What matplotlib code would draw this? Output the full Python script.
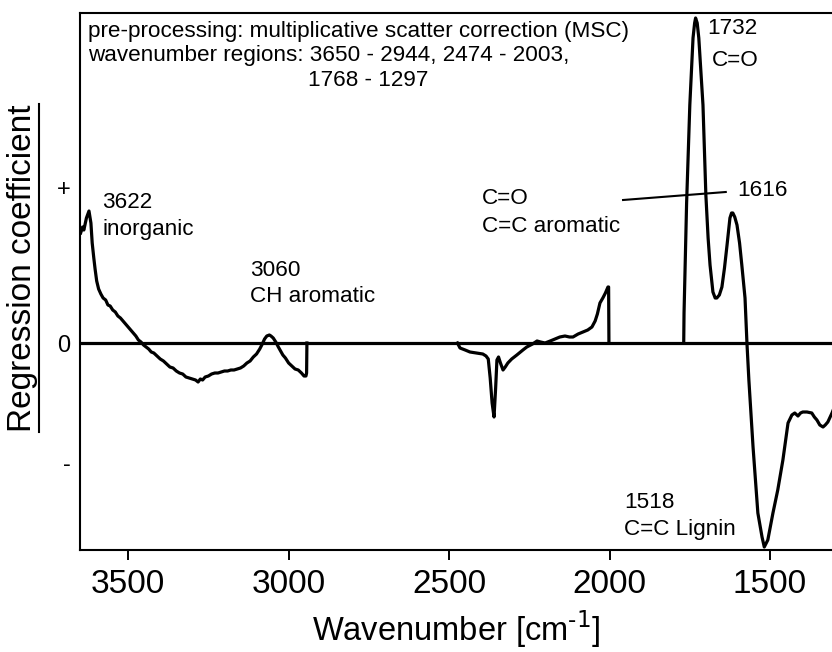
import matplotlib
matplotlib.use("Agg")
import matplotlib.pyplot as plt
from matplotlib.lines import Line2D

plt.rcParams['font.family'] = ['Liberation Sans', 'DejaVu Sans']
plt.rcParams['mathtext.default'] = 'regular'

# PLS regression coefficients over the selected wavenumber regions
# (coefficients are zero outside the regions)
wn_oh = [3648, 3642, 3638, 3630, 3622, 3616, 3612, 3607, 3603, 3598, 3592, 3585,
         3578, 3570, 3563, 3556, 3548, 3540, 3532, 3524, 3516, 3508, 3500, 3492,
         3484, 3476, 3468, 3460, 3452, 3444, 3436, 3428, 3420, 3410, 3400, 3390,
         3380, 3370, 3360, 3350, 3340, 3330, 3320, 3310, 3300, 3290, 3282, 3275,
         3268, 3260, 3250, 3240, 3230, 3220, 3210, 3200, 3190, 3180, 3170, 3160,
         3150, 3140, 3130, 3120, 3110, 3100, 3090, 3082, 3075, 3068, 3060, 3055,
         3048, 3040, 3032, 3025, 3018, 3010, 3000, 2990, 2980, 2970, 2960, 2952,
         2946, 2944, 2943]
coef_oh = [1.10, 1.16, 1.13, 1.25, 1.32, 1.20, 1.00, 0.85, 0.74, 0.62, 0.54, 0.49,
           0.45, 0.43, 0.38, 0.37, 0.33, 0.31, 0.27, 0.25, 0.22, 0.19, 0.16, 0.13,
           0.10, 0.07, 0.03, 0.01, -0.02, -0.04, -0.06, -0.09, -0.10, -0.13, -0.16, -0.18,
           -0.21, -0.24, -0.25, -0.28, -0.30, -0.31, -0.34, -0.35, -0.36, -0.37, -0.39, -0.36,
           -0.37, -0.34, -0.33, -0.31, -0.30, -0.30, -0.29, -0.28, -0.28, -0.27, -0.27, -0.26,
           -0.25, -0.23, -0.20, -0.18, -0.14, -0.11, -0.06, -0.01, 0.04, 0.07, 0.08, 0.07,
           0.05, 0.01, -0.04, -0.08, -0.12, -0.15, -0.20, -0.23, -0.26, -0.27, -0.30, -0.33,
           -0.33, -0.30, 0.0]

wn_mid = [2474, 2466, 2450, 2435, 2415, 2395, 2385, 2378, 2372, 2366, 2360, 2355,
          2351, 2346, 2340, 2332, 2325, 2317, 2305, 2289, 2270, 2258, 2240, 2226,
          2215, 2201, 2185, 2170, 2155, 2139, 2125, 2114, 2098, 2083, 2068, 2055,
          2045, 2038, 2030, 2021, 2013, 2005, 2003, 2002]
coef_mid = [0.0, -0.05, -0.07, -0.09, -0.10, -0.11, -0.13, -0.16, -0.35, -0.60, -0.74, -0.45,
            -0.17, -0.14, -0.20, -0.27, -0.24, -0.20, -0.16, -0.12, -0.07, -0.04, -0.01, 0.02,
            0.01, 0.00, 0.02, 0.04, 0.06, 0.07, 0.06, 0.06, 0.09, 0.11, 0.13, 0.16,
            0.22, 0.29, 0.40, 0.45, 0.50, 0.56, 0.56, 0.0]

wn_fp = [1769, 1768, 1760, 1750, 1740, 1735, 1732, 1727, 1722, 1709, 1700, 1693,
         1687, 1678, 1671, 1666, 1658, 1650, 1642, 1634, 1625, 1620, 1616, 1610,
         1603, 1595, 1588, 1578, 1572, 1566, 1553, 1538, 1525, 1518, 1507, 1491,
         1476, 1460, 1444, 1432, 1423, 1413, 1405, 1398, 1385, 1370, 1362, 1354,
         1345, 1335, 1328, 1320, 1307, 1297]
coef_fp = [0.0, 0.30, 1.40, 2.38, 3.05, 3.20, 3.25, 3.20, 3.05, 2.38, 1.48, 1.05,
           0.78, 0.51, 0.45, 0.45, 0.48, 0.56, 0.75, 0.98, 1.25, 1.30, 1.30, 1.26,
           1.18, 1.00, 0.78, 0.45, 0.0, -0.37, -1.04, -1.70, -1.94, -2.04, -1.97, -1.70,
           -1.47, -1.17, -0.80, -0.72, -0.70, -0.73, -0.70, -0.69, -0.69, -0.70, -0.74, -0.77,
           -0.82, -0.84, -0.82, -0.79, -0.70, -0.62]

xticks = [3500, 3000, 2500, 2000, 1500]
yticks = [1.56, 0.0, -1.2]
ytick_labels = ['+', '0', '-']

fig = plt.figure(figsize=(8.32, 6.52), dpi=100)
ax = fig.add_axes([80 / 832, 1 - 550 / 652, 752 / 832, 537 / 652])

ax.axhline(0, color='black', lw=2.3, zorder=2)
for wn, coef in [(wn_oh, coef_oh), (wn_mid, coef_mid), (wn_fp, coef_fp)]:
    ax.plot(wn, coef, color='black', lw=2.3, solid_joinstyle='round', zorder=3)

ax.set_xlim(3650, 1307)
ax.set_ylim(-2.07, 3.30)

ax.set_xticks(xticks)
ax.set_xticklabels([str(t) for t in xticks])
ax.set_yticks(yticks)
ax.set_yticklabels(ytick_labels)
ax.tick_params(axis='x', direction='out', length=7, width=1.4, labelsize=24, pad=7)
ax.tick_params(axis='y', length=0, labelsize=17, pad=7)

for side in ['left', 'top', 'bottom']:
    ax.spines[side].set_linewidth(1.5)
ax.spines['right'].set_visible(False)

ax.set_xlabel('Wavenumber [cm$^{\\text{-1}}$]', fontsize=23.5, labelpad=6)
ax.set_ylabel('Regression coefficient', fontsize=24, labelpad=13)
ax.yaxis.label.set_y(0.525)

fs = 16.2
ax.text(3625, 3.11, 'pre-processing: multiplicative scatter correction (MSC)',
        fontsize=fs, va='center', ha='left')
ax.text(3625, 2.88, 'wavenumber regions: 3650 - 2944, 2474 - 2003,',
        fontsize=fs, va='center', ha='left')
ax.text(2940, 2.63, '1768 - 1297', fontsize=fs, va='center', ha='left')

ax.text(3581, 1.41, '3622', fontsize=fs, va='center', ha='left')
ax.text(3581, 1.13, 'inorganic', fontsize=fs, va='center', ha='left')
ax.text(3120, 0.73, '3060', fontsize=fs, va='center', ha='left')
ax.text(3120, 0.46, 'CH aromatic', fontsize=fs, va='center', ha='left')
ax.text(2398, 1.45, 'C=O', fontsize=fs, va='center', ha='left')
ax.text(2398, 1.16, 'C=C aromatic', fontsize=fs, va='center', ha='left')
ax.plot([1958, 1638], [1.43, 1.51], color='black', lw=1.5, zorder=4)
ax.text(1603, 1.53, '1616', fontsize=fs, va='center', ha='left')
ax.text(1697, 3.15, '1732', fontsize=fs, va='center', ha='left')
ax.text(1681, 2.83, 'C=O', fontsize=fs, va='center', ha='left')
ax.text(1955, -1.59, '1518', fontsize=fs, va='center', ha='left')
ax.text(1955, -1.87, 'C=C Lignin', fontsize=fs, va='center', ha='left')

# underline the y-axis label
fig.canvas.draw()
bb = ax.yaxis.label.get_window_extent(fig.canvas.get_renderer())
W, H = fig.bbox.width, fig.bbox.height
ux = (bb.x1 + 1) / W
fig.add_artist(Line2D([ux, ux], [bb.y0 / H, bb.y1 / H], color='black', lw=1.5))

fig.savefig('out.png', dpi=100)
